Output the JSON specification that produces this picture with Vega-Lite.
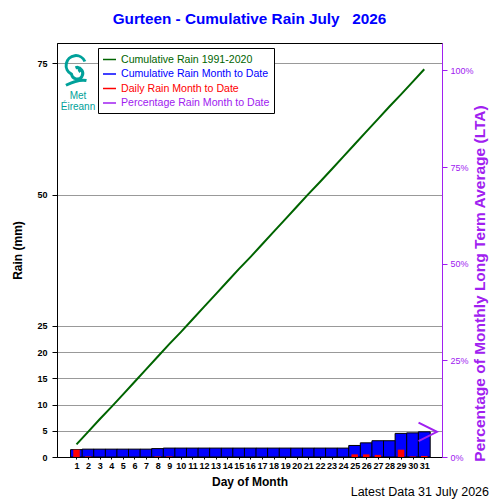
{
  "$schema": "https://vega.github.io/schema/vega-lite/v6.json",
  "width": 385,
  "height": 414,
  "autosize": "none",
  "padding": {"left": 57, "top": 43, "right": 58, "bottom": 43},
  "title": {
    "text": "Gurteen - Cumulative Rain July\u00a0\u00a0 2026",
    "fontSize": 15.3,
    "fontWeight": "bold",
    "color": "#0000ff",
    "anchor": "middle",
    "offset": 16
  },
  "datasets": {
    "rain": [
      {"day": 1, "lta": 2.4, "cum": 1.4, "daily": 1.4},
      {"day": 2, "lta": 4.8, "cum": 1.5, "daily": 0.1},
      {"day": 3, "lta": 7.2, "cum": 1.5, "daily": 0},
      {"day": 4, "lta": 9.5, "cum": 1.5, "daily": 0},
      {"day": 5, "lta": 11.9, "cum": 1.5, "daily": 0},
      {"day": 6, "lta": 14.3, "cum": 1.5, "daily": 0},
      {"day": 7, "lta": 16.7, "cum": 1.5, "daily": 0},
      {"day": 8, "lta": 19.1, "cum": 1.6, "daily": 0.1},
      {"day": 9, "lta": 21.5, "cum": 1.7, "daily": 0.1},
      {"day": 10, "lta": 23.8, "cum": 1.7, "daily": 0},
      {"day": 11, "lta": 26.2, "cum": 1.7, "daily": 0},
      {"day": 12, "lta": 28.6, "cum": 1.7, "daily": 0},
      {"day": 13, "lta": 31.0, "cum": 1.7, "daily": 0},
      {"day": 14, "lta": 33.4, "cum": 1.7, "daily": 0},
      {"day": 15, "lta": 35.8, "cum": 1.7, "daily": 0},
      {"day": 16, "lta": 38.1, "cum": 1.7, "daily": 0},
      {"day": 17, "lta": 40.5, "cum": 1.7, "daily": 0},
      {"day": 18, "lta": 42.9, "cum": 1.7, "daily": 0},
      {"day": 19, "lta": 45.3, "cum": 1.7, "daily": 0},
      {"day": 20, "lta": 47.7, "cum": 1.7, "daily": 0},
      {"day": 21, "lta": 50.1, "cum": 1.7, "daily": 0},
      {"day": 22, "lta": 52.4, "cum": 1.7, "daily": 0},
      {"day": 23, "lta": 54.8, "cum": 1.7, "daily": 0},
      {"day": 24, "lta": 57.2, "cum": 1.7, "daily": 0},
      {"day": 25, "lta": 59.6, "cum": 2.2, "daily": 0.5},
      {"day": 26, "lta": 62.0, "cum": 2.7, "daily": 0.5},
      {"day": 27, "lta": 64.4, "cum": 3.1, "daily": 0.4},
      {"day": 28, "lta": 66.8, "cum": 3.1, "daily": 0},
      {"day": 29, "lta": 69.1, "cum": 4.5, "daily": 1.4},
      {"day": 30, "lta": 71.5, "cum": 4.6, "daily": 0.1},
      {"day": 31, "lta": 73.9, "cum": 4.8, "daily": 0.2}
    ],
    "pct": [{"day": 31, "pct": 6.5}],
    "notes": [{"note": "Latest Data 31 July 2026"}],
    "logo": [{"name": "Met\nÉireann"}]
  },
  "layer": [
    {
      "data": {"name": "rain"},
      "encoding": {
        "x": {
          "field": "day",
          "type": "quantitative",
          "scale": {"domain": [-0.25, 32.1], "nice": false, "zero": false},
          "axis": {
            "title": "Day of Month",
            "values": [1,2,3,4,5,6,7,8,9,10,11,12,13,14,15,16,17,18,19,20,21,22,23,24,25,26,27,28,29,30,31],
            "labelFontSize": 9,
            "labelFontWeight": "bold",
            "labelColor": "black",
            "labelPadding": 2,
            "labelFlush": false,
            "labelOverlap": false,
            "tickSize": 2,
            "tickColor": "black",
            "domainColor": "black",
            "grid": false,
            "titleFontSize": 12,
            "titleFontWeight": "bold",
            "titlePadding": 6
          }
        }
      },
      "layer": [
        {
          "mark": {"type": "bar", "width": 11.9, "stroke": "black", "strokeWidth": 1},
          "encoding": {
            "y": {
              "field": "cum",
              "type": "quantitative",
              "scale": {"domain": [0, 78.9], "nice": false},
              "axis": {
                "title": "Rain (mm)",
                "values": [0, 5, 10, 15, 20, 25, 50, 75],
                "labelFontSize": 9,
                "labelFontWeight": "bold",
                "labelColor": "black",
                "labelPadding": 5,
                "tickSize": 5,
                "tickColor": "black",
                "domainColor": "black",
                "gridColor": "#999999",
                "titleFontSize": 12,
                "titleFontWeight": "bold",
                "titlePadding": 12
              }
            },
            "color": {
              "datum": "Cumulative Rain Month to Date",
              "scale": {
                "domain": ["Cumulative Rain 1991-2020", "Cumulative Rain Month to Date", "Daily Rain Month to Date", "Percentage Rain Month to Date"],
                "range": ["#006400", "#0000ff", "#ff0000", "#a020f0"]
              },
              "legend": {
                "title": null,
                "orient": "none",
                "legendX": 41,
                "legendY": 5,
                "symbolType": "stroke",
                "symbolSize": 169,
                "symbolStrokeWidth": 1.5,
                "labelFontSize": 10.6,
                "labelOffset": 4,
                "labelColor": {"expr": "scale('color', datum.value)"},
                "rowPadding": 0.5,
                "padding": 4,
                "fillColor": "white",
                "strokeColor": "black",
                "cornerRadius": 0,
                "encode": {
                  "symbols": {"update": {"stroke": {"scale": "color", "field": "value"}, "fill": {"value": "transparent"}, "strokeWidth": {"value": 1.5}}}
                }
              }
            }
          }
        },
        {
          "mark": {"type": "bar", "width": 6.5},
          "encoding": {
            "y": {"field": "daily", "type": "quantitative"},
            "color": {"datum": "Daily Rain Month to Date"}
          }
        },
        {
          "mark": {"type": "line", "strokeWidth": 2},
          "encoding": {
            "y": {"field": "lta", "type": "quantitative"},
            "color": {"datum": "Cumulative Rain 1991-2020"}
          }
        }
      ]
    },
    {
      "data": {"name": "pct"},
      "mark": {
        "type": "point",
        "shape": "M-0.57,-0.92L1.27,0L-0.57,0.92",
        "size": 400,
        "filled": false,
        "strokeWidth": 2,
        "clip": false,
        "opacity": 1
      },
      "encoding": {
        "x": {
          "field": "day",
          "type": "quantitative",
          "scale": {"domain": [-0.25, 32.1], "nice": false, "zero": false},
          "axis": {
            "title": "Day of Month",
            "values": [1,2,3,4,5,6,7,8,9,10,11,12,13,14,15,16,17,18,19,20,21,22,23,24,25,26,27,28,29,30,31],
            "labelFontSize": 9,
            "labelFontWeight": "bold",
            "labelColor": "black",
            "labelPadding": 2,
            "labelFlush": false,
            "labelOverlap": false,
            "tickSize": 2,
            "tickColor": "black",
            "domainColor": "black",
            "grid": false,
            "titleFontSize": 12,
            "titleFontWeight": "bold",
            "titlePadding": 6
          }
        },
        "y": {
          "field": "pct",
          "type": "quantitative",
          "scale": {"domain": [0, 107.07], "nice": false},
          "axis": {
            "orient": "right",
            "title": "Percentage  of Monthly Long Term Average (LTA)",
            "values": [0, 25, 50, 75, 100],
            "labelExpr": "datum.value + '%'",
            "labelFontSize": 9,
            "labelColor": "#a020f0",
            "labelPadding": 3,
            "tickSize": 5,
            "tickColor": "#a020f0",
            "domainColor": "#a020f0",
            "grid": false,
            "zindex": 1,
            "titleColor": "#a020f0",
            "titleFontSize": 15.5,
            "titleFontWeight": "bold",
            "titleAngle": 270,
            "titleY": 240,
            "titlePadding": 14
          }
        },
        "color": {"datum": "Percentage Rain Month to Date"}
      }
    },
    {
      "data": {"name": "notes"},
      "mark": {"type": "text", "x": {"expr": "width + 47"}, "y": {"expr": "height + 39"}, "align": "right", "baseline": "alphabetic", "fontSize": 12.5, "color": "black"},
      "encoding": {"text": {"field": "note"}}
    },
    {
      "data": {"name": "logo"},
      "mark": {
        "type": "point",
        "shape": "M0.1,0.05A0.14,0.14 0 1,0 -0.08,-0.2A0.36,0.36 0 1,1 -0.35,0.2A0.62,0.62 0 1,1 0.5,-0.6M-0.7,0.9Q0.1,0.5 0.6,0.6",
        "x": 20,
        "y": 28,
        "size": 1000,
        "filled": false,
        "strokeWidth": 3,
        "color": "#00a19a",
        "opacity": 1
      },
      "encoding": {}
    },
    {
      "data": {"name": "logo"},
      "mark": {"type": "text", "x": 21, "y": 53, "lineBreak": "\n", "lineHeight": 11, "align": "center", "baseline": "middle", "fontSize": 10, "color": "#00a19a"},
      "encoding": {"text": {"field": "name"}}
    }
  ],
  "resolve": {"scale": {"y": "independent"}},
  "config": {
    "font": "Liberation Sans",
    "view": {"stroke": "black"},
    "axis": {"domainWidth": 1, "tickWidth": 1}
  }
}
